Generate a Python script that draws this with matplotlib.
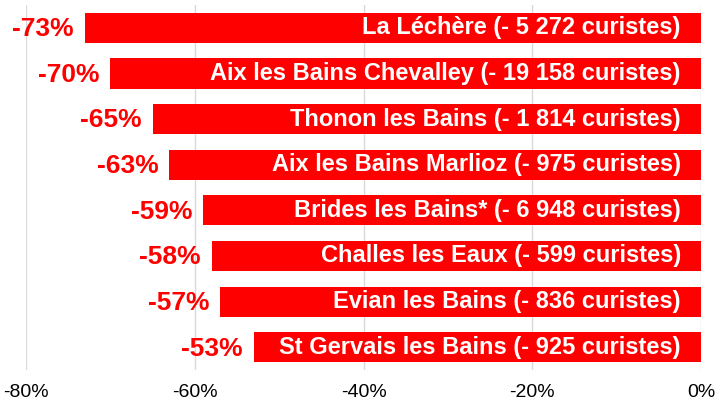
import matplotlib
matplotlib.use("Agg")
import matplotlib.pyplot as plt
from matplotlib.ticker import FuncFormatter

# stations thermales, evolution de la frequentation
stations = ["La Léchère", "Aix les Bains Chevalley", "Thonon les Bains",
            "Aix les Bains Marlioz", "Brides les Bains*", "Challes les Eaux",
            "Evian les Bains", "St Gervais les Bains"]
evolution = [-73, -70, -65, -63, -59, -58, -57, -53]
curistes = ["5 272", "19 158", "1 814", "975", "6 948", "599", "836", "925"]

red = "#ff0000"
plt.rcParams["font.family"] = ["Liberation Sans", "DejaVu Sans"]

fig = plt.figure(figsize=(7.17, 4.01), dpi=100)
ax = fig.add_axes([0.0363, 0.0773, 0.9414, 0.9102])

pos = list(range(len(stations)))
ax.barh(pos, evolution, height=0.66, color=red, zorder=2)

for y, v, name, n in zip(pos, evolution, stations, curistes):
    ax.text(-2.4, y, "%s (- %s curistes)" % (name, n), color="white",
            fontweight="bold", fontsize=17, ha="right", va="center", zorder=3)
    ax.text(v - 1.3, y + 0.03, "%d%%" % v, color=red, fontweight="bold",
            fontsize=19, ha="right", va="center", zorder=3)

ax.set_xlim(-80, 0)
ax.set_ylim(7.5, -0.5)
ax.set_xticks([-80, -60, -40, -20, 0])
ax.xaxis.set_major_formatter(FuncFormatter(lambda x, p: "%d%%" % x))
ax.set_yticks([])
ax.grid(axis="x", color="#d9d9d9", linewidth=1, zorder=0)
for s in ax.spines.values():
    s.set_visible(False)
ax.tick_params(axis="x", length=0, labelsize=14, pad=10)

fig.savefig("out.png", dpi=100)
